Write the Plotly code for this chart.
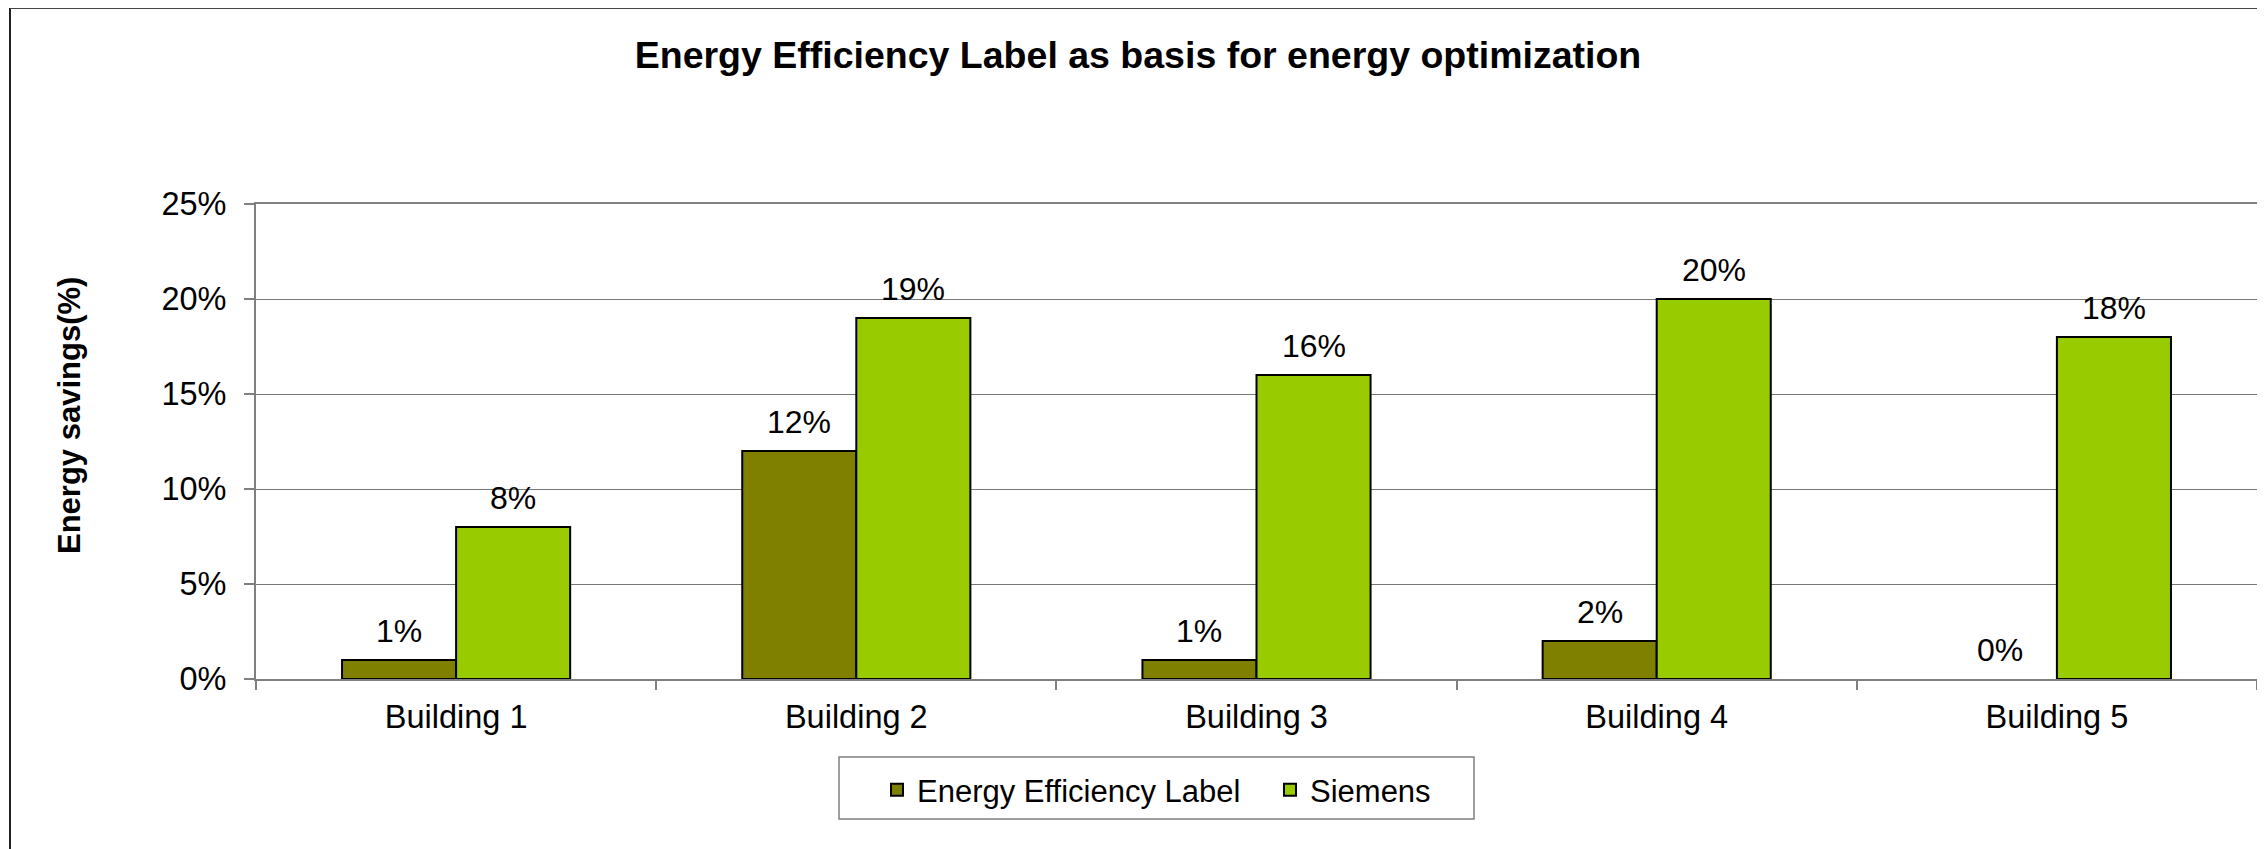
import plotly.graph_objects as go

categories = ["Building 1", "Building 2", "Building 3", "Building 4", "Building 5"]
eel_values = [0.01, 0.12, 0.01, 0.02, 0.00]
siemens_values = [0.08, 0.19, 0.16, 0.20, 0.18]
series_names = ["Energy Efficiency Label", "Siemens"]
series_colors = ["#808000", "#99CC00"]
y_ticks = [0, 0.05, 0.10, 0.15, 0.20, 0.25]
y_tick_labels = ["0%", "5%", "10%", "15%", "20%", "25%"]

W, H = 2265, 849
OFF = 8  # page body margin offset


def fx(x):
    return x - OFF


# plot area in screen px
PL, PR, PT, PB = 256, 2257, 204, 679
L, R, T, B = fx(PL), W - fx(PR), fx(PT), H - fx(PB)
pw, ph = W - L - R, H - T - B

FONT = "Liberation Sans, Arial, sans-serif"
BARGAP = 0.43


def px_x(x):
    return (fx(x) - L) / pw


def px_y(y):
    return (H - B - fx(y)) / ph


fig = go.Figure()
for name, vals, col in zip(series_names, [eel_values, siemens_values], series_colors):
    fig.add_trace(go.Bar(
        x=categories, y=vals, name=name,
        marker=dict(color=col,
                    line=dict(color="#000000",
                              width=[0 if v == 0 else 2 for v in vals])),
        cliponaxis=False,
    ))

bar_w = pw / len(categories) * (1 - BARGAP) / 2
annotations = []
for k, vals in enumerate([eel_values, siemens_values]):
    shift = (k - 0.5) * bar_w
    for c, v in zip(categories, vals):
        annotations.append(dict(
            x=c, y=v, xref="x", yref="y", text=f"{v*100:.0f}%",
            showarrow=False, xanchor="center", yanchor="bottom",
            xshift=shift, yshift=9,
            font=dict(family=FONT, size=32, color="#000000")))

annotations.append(dict(text="<b>Energy savings(%)</b>", textangle=-90,
                        xref="paper", yref="paper", x=px_x(69), y=px_y(416),
                        xanchor="center", yanchor="middle", showarrow=False,
                        font=dict(family=FONT, size=31, color="#000000")))

fig.update_layout(
    width=W, height=H,
    margin=dict(l=L, r=R, t=T, b=B, autoexpand=False),
    paper_bgcolor="white", plot_bgcolor="white",
    barmode="group", bargap=BARGAP, bargroupgap=0,
    font=dict(family=FONT, color="#000000"),
    title=dict(text="Energy Efficiency Label as basis for energy optimization",
               x=fx(1138) / W, xanchor="center", xref="container",
               y=1 - fx(55) / H, yanchor="middle", yref="container",
               font=dict(family=FONT, size=37.5, weight="bold", color="#000000")),
    showlegend=True,
    legend=dict(orientation="h", x=px_x(891 - 14), xanchor="left",
                y=px_y(790), yanchor="middle",
                borderwidth=0, bgcolor="rgba(0,0,0,0)",
                entrywidth=348, entrywidthmode="pixels",
                font=dict(family=FONT, size=31, color="#000000")),
    xaxis=dict(type="category", showline=True, linecolor="#808080", linewidth=2,
               mirror=True, ticks="outside", ticklen=9, tickcolor="#808080",
               tickwidth=2, tickson="boundaries", showgrid=False,
               ticklabelstandoff=8,
               tickfont=dict(family=FONT, size=32.5, color="#000000")),
    yaxis=dict(range=[0, 0.25], tickvals=y_ticks, ticktext=y_tick_labels,
               showline=True, linecolor="#808080", linewidth=2, mirror=True,
               ticks="outside", ticklen=10, tickcolor="#808080", tickwidth=2,
               showgrid=True, gridcolor="#777777", gridwidth=1,
               zeroline=False, ticklabelstandoff=11,
               tickfont=dict(family=FONT, size=32.5, color="#000000")),
    annotations=annotations,
    shapes=[
        dict(type="line", xref="paper", yref="paper",
             x0=px_x(10), x1=px_x(10), y0=px_y(8), y1=px_y(H + 20),
             line=dict(color="#222222", width=2)),
        dict(type="line", xref="paper", yref="paper",
             x0=px_x(10), x1=px_x(W + 20), y0=px_y(8), y1=px_y(8),
             line=dict(color="#444444", width=2)),
        dict(type="rect", xref="paper", yref="paper",
             x0=px_x(839), x1=px_x(1474), y0=px_y(757), y1=px_y(819),
             line=dict(color="#808080", width=1.5), layer="below"),
    ],
)

fig.write_html("out.html")
